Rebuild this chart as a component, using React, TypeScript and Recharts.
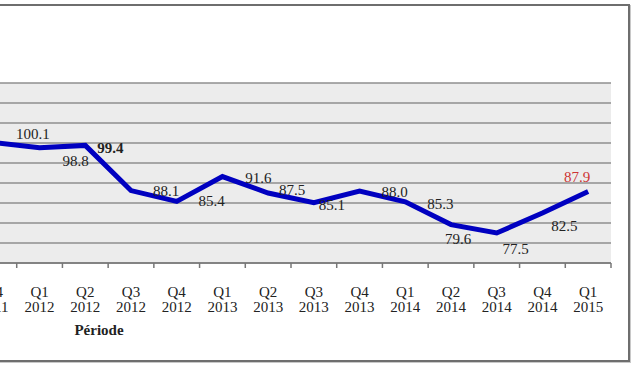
import React from "react";
import { LineChart, Line, XAxis, YAxis, CartesianGrid, LabelList } from "recharts";

// categories (quarter / year) and index values
const quarters = ["Q4", "Q1", "Q2", "Q3", "Q4", "Q1", "Q2", "Q3", "Q4", "Q1", "Q2", "Q3", "Q4", "Q1"];
const years = ["2011", "2012", "2012", "2012", "2012", "2013", "2013", "2013", "2013", "2014", "2014", "2014", "2014", "2015"];
const values = [100.1, 98.8, 99.4, 88.1, 85.4, 91.6, 87.5, 85.1, 88.0, 85.3, 79.6, 77.5, 82.5, 87.9];
const yTicks = [70, 75, 80, 85, 90, 95, 100, 105, 110, 115];

// label nudges (dx, dy) relative to each point, like the hand-placed Excel labels
const labelOffsets = [
  [39, -9], [36, 13], [25, 3], [35, 0], [35, 0], [36, 1], [24, -3],
  [18, 2], [35, 1], [35, 2], [7, 14], [19, 16], [22, 13], [-11, -14],
];

const data = quarters.map((q, i) => ({ period: q + " " + years[i], q, year: years[i], value: values[i] }));

const CHART_W = 660;
const PLOT_W = 640;
const BAND = PLOT_W / data.length;
const FONT = "'Liberation Serif', 'DejaVu Serif', serif";

const QuarterTick = (props: any) => {
  const { x, y, payload } = props;
  const [q, year] = String(payload.value).split(" ");
  const right = x + BAND / 2;
  return (
    <g>
      <line x1={right} y1={y - 8} x2={right} y2={y - 3} stroke="#777" strokeWidth={1.5} />
      <text x={x} y={y + 26} textAnchor="middle" fontSize={15} fill="#222" fontFamily={FONT}>
        {q}
      </text>
      <text x={x} y={y + 41} textAnchor="middle" fontSize={15} fill="#222" fontFamily={FONT}>
        {year}
      </text>
    </g>
  );
};

const ValueLabel = (props: any) => {
  const { x, y, value, index } = props;
  const [dx, dy] = labelOffsets[index] || [0, -10];
  const last = index === values.length - 1;
  return (
    <text
      x={x + dx}
      y={y + dy + 5}
      textAnchor="middle"
      fontSize={15}
      fontFamily={FONT}
      fontWeight={index === 2 ? "bold" : "normal"}
      fill={last ? "#cc3333" : "#222"}
    >
      {Number(value).toFixed(1)}
    </text>
  );
};

const AxisTitle = (props: any) => {
  const { viewBox } = props;
  return (
    <text
      x={viewBox.x + 128}
      y={viewBox.y + 72}
      textAnchor="middle"
      fontSize={15}
      fontWeight="bold"
      fill="#222"
      fontFamily={FONT}
    >
      Période
    </text>
  );
};

export default function App() {
  return (
    <div
      style={{
        position: "absolute",
        left: 0,
        top: 0,
        width: 640,
        height: 370,
        overflow: "hidden",
        background: "#fff",
      }}
    >
      <div
        style={{
          position: "absolute",
          left: -10,
          top: 4,
          width: 636,
          height: 354,
          border: "2px solid #6e6e6e",
          boxShadow: "1px 1px 0 #c8c8c8",
        }}
      />
      <div style={{ position: "absolute", left: -40, top: 0 }}>
        <LineChart
          width={CHART_W}
          height={370}
          data={data}
          margin={{ top: 83, right: 9, left: 11, bottom: 47 }}
        >
          <CartesianGrid
            vertical={false}
            horizontal
            fill="#ececec"
            stroke="#8f8f8f"
            strokeWidth={1.5}
          />
          <XAxis
            dataKey="period"
            padding={{ left: BAND / 2, right: BAND / 2 }}
            height={60}
            interval={0}
            tickLine={false}
            axisLine={{ stroke: "#777", strokeWidth: 1.5 }}
            tick={<QuarterTick />}
            label={<AxisTitle />}
          />
          <YAxis hide domain={[70, 115]} ticks={yTicks} interval={0} />
          <Line
            type="linear"
            dataKey="value"
            stroke="#0000c0"
            strokeWidth={5}
            dot={false}
            isAnimationActive={false}
          >
            <LabelList dataKey="value" content={<ValueLabel />} />
          </Line>
        </LineChart>
      </div>
    </div>
  );
}
